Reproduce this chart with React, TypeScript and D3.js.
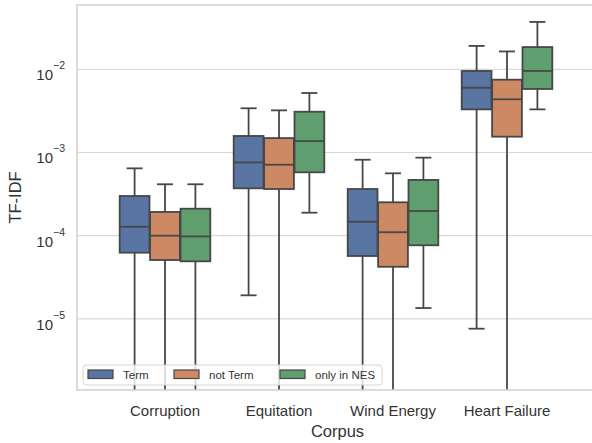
import React from 'react';
import * as d3 from 'd3';

const corpora = ['Corruption', 'Equitation', 'Wind Energy', 'Heart Failure'];
const groups = ['Term', 'not Term', 'only in NES'];
const colors = ['#5875a4', '#cc8963', '#5f9e6e'];

// each row: [lower whisker, q1, median, q3, upper whisker]; 0 = whisker runs off the axis
const termStats = [
  [0, 6.25e-5, 1.28e-4, 3.0e-4, 6.45e-4],
  [1.92e-5, 3.71e-4, 7.6e-4, 1.58e-3, 3.4e-3],
  [0, 5.7e-5, 1.47e-4, 3.64e-4, 8.18e-4],
  [7.62e-6, 3.3e-3, 6.0e-3, 9.55e-3, 1.91e-2],
];
const notTermStats = [
  [0, 5.1e-5, 1.0e-4, 1.93e-4, 4.15e-4],
  [0, 3.64e-4, 7.13e-4, 1.49e-3, 3.21e-3],
  [0, 4.23e-5, 1.1e-4, 2.52e-4, 5.62e-4],
  [0, 1.55e-3, 4.36e-3, 7.5e-3, 1.64e-2],
];
const nesStats = [
  [0, 4.92e-5, 9.8e-5, 2.11e-4, 4.15e-4],
  [1.89e-4, 5.78e-4, 1.37e-3, 3.09e-3, 5.19e-3],
  [1.35e-5, 7.67e-5, 1.98e-4, 4.68e-4, 8.67e-4],
  [3.3e-3, 5.8e-3, 9.55e-3, 1.85e-2, 3.71e-2],
];
const stats = [termStats, notTermStats, nesStats];

const yTicks = [-5, -4, -3, -2];

const W = 592;
const H = 443;
const plot = { left: 77, top: 5, right: 596, bottom: 390 };
const font = '"Liberation Sans", Arial, sans-serif';
const textColor = '#333333';
const edge = '#474747';

const y = d3
  .scaleLog()
  .domain([Math.pow(10, -5.855), Math.pow(10, -1.227)])
  .range([plot.bottom, plot.top])
  .clamp(true);
const yv = (v: number) => y(Math.max(v, 1e-12));

const x = d3.scaleBand<string>().domain(corpora).range([108, 564]);
const hue = d3
  .scaleBand<string>()
  .domain(groups)
  .range([-x.bandwidth() * 0.4, x.bandwidth() * 0.4]);

// legend entry offsets (patch left edge) inside the frame
const legendX = [88, 174, 280];

const Box: React.FC<{ cx: number; s: number[]; color: string }> = ({ cx, s, color }) => {
  const bw = hue.bandwidth() * 0.98;
  const cap = 16;
  const [lo, q1, med, q3, hi] = s;
  return (
    <g stroke={edge} strokeWidth={1.8}>
      <line x1={cx} x2={cx} y1={yv(q1)} y2={yv(lo)} />
      <line x1={cx} x2={cx} y1={yv(q3)} y2={yv(hi)} />
      {lo > 0 && <line x1={cx - cap / 2} x2={cx + cap / 2} y1={yv(lo)} y2={yv(lo)} />}
      <line x1={cx - cap / 2} x2={cx + cap / 2} y1={yv(hi)} y2={yv(hi)} />
      <rect x={cx - bw / 2} y={yv(q3)} width={bw} height={yv(q1) - yv(q3)} fill={color} />
      <line x1={cx - bw / 2} x2={cx + bw / 2} y1={yv(med)} y2={yv(med)} />
    </g>
  );
};

export default function App() {
  return (
    <svg
      width={W}
      height={H}
      style={{ position: 'absolute', left: 0, top: 0, background: '#fff' }}
      fontFamily={font}
    >
      <rect x={0} y={0} width={W} height={H} fill="#fff" />
      {yTicks.map((t) => (
        <line
          key={t}
          x1={plot.left}
          x2={plot.right}
          y1={y(Math.pow(10, t))}
          y2={y(Math.pow(10, t))}
          stroke="#d9d9d9"
          strokeWidth={1.2}
        />
      ))}
      {yTicks.map((t) => (
        <text
          key={'l' + t}
          x={65}
          y={y(Math.pow(10, t)) + 11}
          textAnchor="end"
          fontSize={15}
          fill={textColor}
        >
          10
          <tspan fontSize={10.5} dy={-11}>
            {'\u2212' + Math.abs(t)}
          </tspan>
        </text>
      ))}
      {corpora.map((c, ci) =>
        groups.map((g, gi) => (
          <Box
            key={c + g}
            cx={(x(c) ?? 0) + x.bandwidth() / 2 + (hue(g) ?? 0) + hue.bandwidth() / 2}
            s={stats[gi][ci]}
            color={colors[gi]}
          />
        ))
      )}
      <rect
        x={plot.left}
        y={plot.top}
        width={plot.right - plot.left}
        height={plot.bottom - plot.top}
        fill="none"
        stroke="#cfcfcf"
        strokeWidth={1.5}
      />
      {corpora.map((c) => (
        <text
          key={c}
          x={(x(c) ?? 0) + x.bandwidth() / 2}
          y={416}
          textAnchor="middle"
          fontSize={15}
          fill={textColor}
        >
          {c}
        </text>
      ))}
      <text x={(plot.left + 592) / 2 + 3} y={437} textAnchor="middle" fontSize={16.5} fill={textColor}>
        Corpus
      </text>
      <text
        transform={`translate(21,${(plot.top + plot.bottom) / 2}) rotate(-90)`}
        textAnchor="middle"
        fontSize={16.5}
        fill={textColor}
      >
        TF-IDF
      </text>
      <g>
        <rect
          x={83}
          y={365}
          width={299}
          height={20}
          rx={3}
          fill="#fff"
          fillOpacity={0.8}
          stroke="#d6d6d6"
          strokeWidth={1}
        />
        {groups.map((g, i) => (
          <g key={g}>
            <rect
              x={legendX[i]}
              y={370}
              width={25}
              height={8.5}
              fill={colors[i]}
              stroke={edge}
              strokeWidth={1.2}
            />
            <text x={legendX[i] + 35} y={379} fontSize={11.5} fill={textColor}>
              {g}
            </text>
          </g>
        ))}
      </g>
    </svg>
  );
}
